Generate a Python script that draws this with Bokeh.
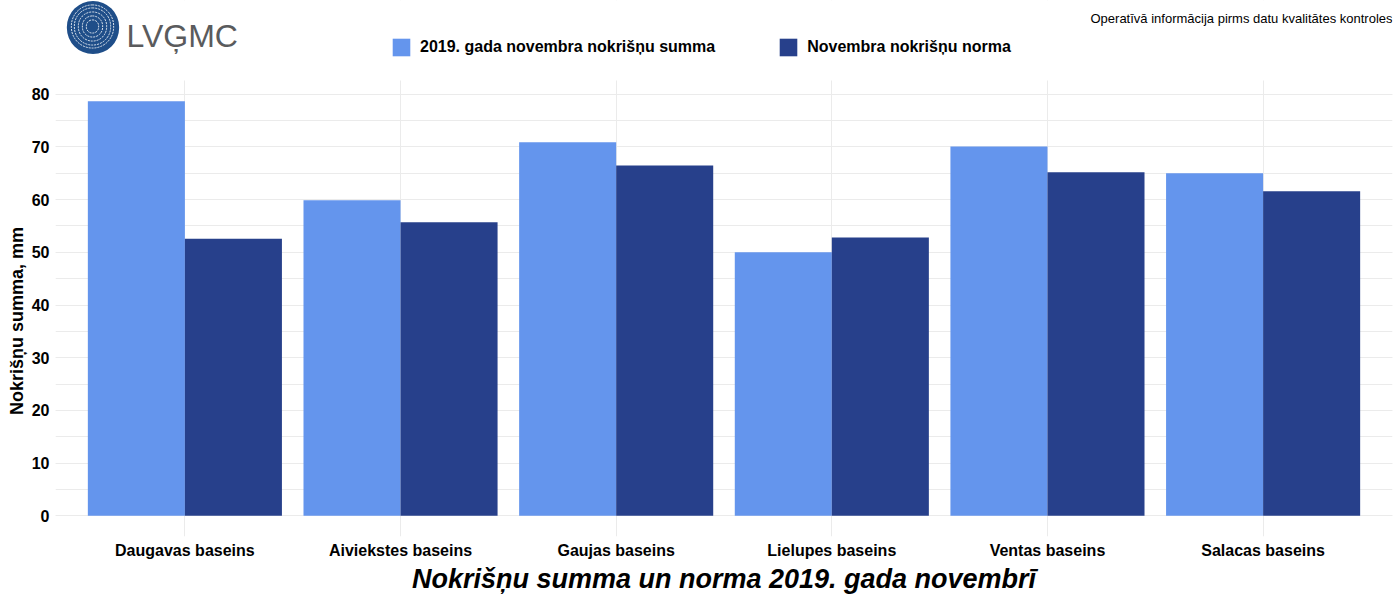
from bokeh.plotting import figure
from bokeh.models import (FactorRange, Range1d, SingleIntervalTicker, Legend, LegendItem,
                          ColumnDataSource, Label, BoxAnnotation)
from bokeh.transform import dodge
from bokeh.embed import file_html
from bokeh.resources import INLINE

# ---- data ----
basins = ["Daugavas baseins", "Aiviekstes baseins", "Gaujas baseins",
          "Lielupes baseins", "Ventas baseins", "Salacas baseins"]
sum_2019 = [78.7, 59.9, 70.9, 50.0, 70.1, 65.0]
norm = [52.6, 55.7, 66.5, 52.8, 65.2, 61.6]
series_labels = ["2019. gada novembra nokrišņu summa", "Novembra nokrišņu norma"]
colors = ["#6495ED", "#27408B"]

FONT = "Liberation Sans"
Y_LO, Y_PANEL_TOP, Y_TOP = -3.94, 82.6, 97.8

src = ColumnDataSource(dict(basin=basins, s=sum_2019, n=norm))
p = figure(width=1398, height=598,
           x_range=FactorRange(factors=basins, range_padding=0.1, range_padding_units="absolute"),
           y_range=Range1d(Y_LO, Y_TOP), output_backend="svg", toolbar_location=None,
           min_border_left=55, min_border_right=6, min_border_top=0, min_border_bottom=62)
p.outline_line_color = None

r1 = p.vbar(x=dodge("basin", -0.225, range=p.x_range), top="s", width=0.45, source=src,
            fill_color=colors[0], line_color=None)
r2 = p.vbar(x=dodge("basin", 0.225, range=p.x_range), top="n", width=0.45, source=src,
            fill_color=colors[1], line_color=None)

p.yaxis.ticker = SingleIntervalTicker(interval=10, num_minor_ticks=2)
p.yaxis.bounds = (0, 80)
for ax in (p.xaxis, p.yaxis):
    ax.axis_line_color = None
    ax.major_tick_line_color = None
    ax.minor_tick_line_color = None
    ax.major_tick_out = 0
    ax.minor_tick_out = 0
    ax.major_label_text_font = FONT
    ax.major_label_text_font_style = "bold"
    ax.major_label_text_font_size = "16px"
    ax.major_label_text_color = "black"
    ax.axis_label_text_font = FONT
    ax.axis_label_text_color = "black"

# trailing no-break spaces keep the title centred on the panel rather than the header
p.yaxis.axis_label = "Nokrišņu summa, mm" + "\u00a0" * 21
p.yaxis.axis_label_text_font_size = "18px"
p.yaxis.axis_label_text_font_style = "bold"
p.yaxis.major_label_standoff = 6
p.yaxis.axis_label_standoff = 2

p.xaxis.axis_label = "Nokrišņu summa un norma 2019. gada novembrī"
p.xaxis.axis_label_text_font_size = "27px"
p.xaxis.axis_label_text_font_style = "bold italic"
p.xaxis.major_label_standoff = 5
p.xaxis.axis_label_standoff = 2

p.xgrid.grid_line_color = "#EBEBEB"
p.ygrid.grid_line_color = "#EBEBEB"
p.ygrid.minor_grid_line_color = "#EBEBEB"
p.ygrid.bounds = (Y_LO, Y_PANEL_TOP)

# white header band over the vertical grid lines above the panel
p.add_layout(BoxAnnotation(bottom=Y_PANEL_TOP, fill_color="white", fill_alpha=1,
                           line_color=None, level="underlay"))

# ---- legend in the header ----
legend = Legend(items=[LegendItem(label=series_labels[0], renderers=[r1]),
                       LegendItem(label=series_labels[1], renderers=[r2])],
                orientation="horizontal", location=(335, 478),
                glyph_width=22, glyph_height=22, label_height=22, label_standoff=8,
                spacing=62, padding=0, margin=0, border_line_color=None,
                background_fill_alpha=0, label_text_font=FONT,
                label_text_font_size="16px", label_text_font_style="bold",
                label_text_color="black")
p.add_layout(legend)

# ---- logo and note (screen units relative to the frame) ----
p.add_layout(Label(x=37.5, y=509, x_units="screen", y_units="screen", text=" ",
                   text_font_size="1px", text_align="center", text_baseline="middle",
                   background_fill_color="#1F4E89", padding=26, border_radius=27))
for r in [6, 10, 14, 18, 21]:
    p.add_layout(Label(x=37, y=510, x_units="screen", y_units="screen", text=" ",
                       text_font_size="1px", text_align="center", text_baseline="middle",
                       background_fill_color=None, border_line_color="white",
                       border_line_width=1, border_line_dash="2 1", border_line_alpha=0.85,
                       padding=r, border_radius=r))
p.add_layout(Label(x=71, y=501, x_units="screen", y_units="screen", text="LVĢMC",
                   text_font=FONT, text_font_size="32px", text_color="#5A5B5D",
                   text_align="left", text_baseline="alphabetic"))
p.add_layout(Label(x=1337, y=518, x_units="screen", y_units="screen",
                   text="Operatīvā informācija pirms datu kvalitātes kontroles",
                   text_font=FONT, text_font_size="13px", text_color="black",
                   text_align="right", text_baseline="alphabetic"))

open("out.html", "w").write(file_html(p, INLINE))
